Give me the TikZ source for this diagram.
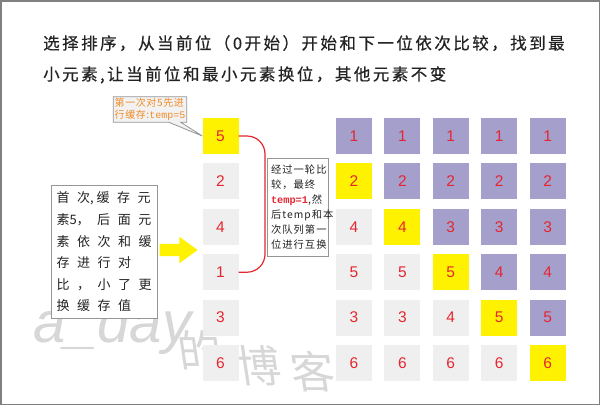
\documentclass[tikz,border=0pt]{standalone}
\usepackage{fontspec}
\setmainfont{Liberation Sans}
\setmonofont{Liberation Mono}
\newfontfamily\cjktitle[LetterSpace=15,FakeBold=0.6]{Noto Sans CJK SC}
\newfontfamily\cjkmemo[LetterSpace=58]{Noto Sans CJK SC}
\newfontfamily\cjknote[LetterSpace=10]{Noto Sans CJK SC}
\newfontfamily\cjkhint[LetterSpace=6]{Noto Sans CJK SC}
\newfontfamily\cjkmark{Noto Sans CJK SC}
\usetikzlibrary{positioning,shapes.arrows,shapes.callouts}
\definecolor{sortpurple}{RGB}{165,159,204}
\definecolor{sortgray}{RGB}{239,239,239}
\definecolor{sortyellow}{RGB}{255,242,0}
\definecolor{sortred}{RGB}{228,38,48}
\definecolor{sortorange}{RGB}{240,140,40}
\definecolor{sortink}{RGB}{35,35,35}
\definecolor{boxgray}{RGB}{150,150,150}
\definecolor{hintgray}{RGB}{242,242,242}
\definecolor{markgray}{RGB}{215,215,215}
\tikzset{
  cell/.style={minimum size=36pt,inner sep=0pt,text=sortred,
               font=\fontsize{15.5}{15.5}\selectfont},
  done/.style={cell,fill=sortpurple},
  todo/.style={cell,fill=sortgray},
  pick/.style={cell,fill=sortyellow},
  textbox/.style={draw=boxgray,line width=1pt,fill=white,align=left,text=sortink},
  wmark/.style={text=markgray,inner sep=0pt},
  wchar/.style={wmark,font=\cjkmark\fontsize{44}{44}\selectfont,xslant=-0.15}
}

\begin{document}
\begin{tikzpicture}[x=1pt,y=-1pt]
  \useasboundingbox (0,0) rectangle (600,405);
  \draw[gray,line width=1.5pt] (0.75,0.75) rectangle (599.25,404.25);
  % watermark
  \node[wmark,anchor=base west,font=\fontsize{58}{58}\selectfont\itshape] (wma) at (33,342) {a\_day};
  \node[wchar] (wm1) at (200,350) {的};
  \node[wchar] (wm2) at (259,366) {博};
  \node[wchar] (wm3) at (313,372) {客};
  % title
  \node[anchor=north west,align=left,inner sep=0pt,text=sortink,
        font=\cjktitle\fontsize{16.5}{31}\selectfont] (title) at (43,35)
    {选择排序，从当前位（0开始）开始和下一位依次比较，找到最\\小元素,让当前位和最小元素换位，其他元素不变};
  % first pass
  \foreach \v/\s [count=\i from 0] in {5/pick,2/todo,4/todo,1/todo,3/todo,6/todo}{
    \pgfmathtruncatemacro\n{\i+1}
    \node[\s] (s\n) at (220.5,136+45.4*\i) {\v};
  }
  % later passes
  \foreach \c/\vals in {1/{1,2,4,5,3,6},2/{1,2,4,5,3,6},3/{1,2,3,5,4,6},
                        4/{1,2,3,4,5,6},5/{1,2,3,4,5,6}}{
    \foreach \v [count=\r] in \vals {
      \ifnum\r>\c
        \ifnum\r=\numexpr\c+1\relax \def\kind{pick}\else \def\kind{todo}\fi
      \else \def\kind{done}\fi
      \node[\kind] (g\c\r) at (354+48.4*\c-48.4,136+45.4*\r-45.4) {\v};
    }
  }
  % swap bracket
  \coordinate (turn) at (265,204);
  \draw[sortred,line width=1.2pt,rounded corners=18pt] (s1.east) -| (turn) |- (s4.east);
  \node[textbox,anchor=north west,inner xsep=3.5pt,text width=54pt,minimum height=98pt,
        font=\cjknote\fontsize{10.3}{15}\selectfont] (note) at (267,158)
    {经过一轮比\\较，最终\\{\color{sortred}\ttfamily\bfseries temp=1},然\\后temp和本\\次队列第一\\位进行互换};
  % left memo
  \node[textbox,anchor=north west,inner xsep=5pt,text width=96pt,minimum height=133pt,
        font=\cjkmemo\fontsize{13}{21.6}\selectfont] (memo) at (51,185)
    {首次\kern0pt,\kern3pt 缓存元\\素\kern0pt 5\kern0pt，后面元\\素依次和缓\\存进行对\\比，小了更\\换缓存值};
  \node[single arrow,fill=sortyellow,inner xsep=0pt,inner ysep=6pt,
        single arrow head extend=7pt,single arrow tip angle=72,
        minimum height=38pt,anchor=tip] (arw) at (198,250) {};
  % hint callout
  \node[rectangle callout,draw=boxgray,fill=hintgray,line width=0.8pt,
        callout absolute pointer={(s1.west)},callout pointer width=12pt,
        align=left,inner sep=1.5pt,text=sortorange,
        font=\cjkhint\fontsize{10}{12}\selectfont] (hint) at (150,109.5)
    {第一次对5先进\\行缓存:{\ttfamily temp=5}};
\end{tikzpicture}
\end{document}
